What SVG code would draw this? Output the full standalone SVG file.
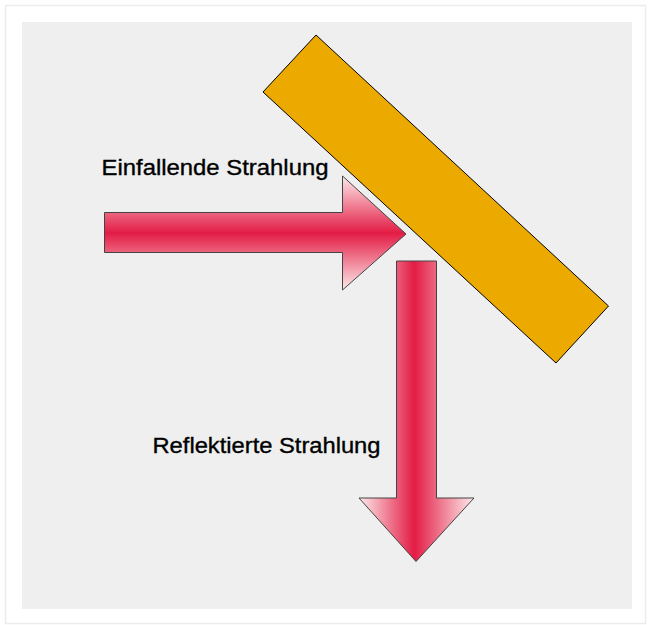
<svg xmlns="http://www.w3.org/2000/svg" width="648" height="625" viewBox="0 0 648 625">
<defs>
<linearGradient id="gH" gradientUnits="userSpaceOnUse" x1="0" y1="176" x2="0" y2="290">
<stop offset="0" stop-color="#fdeaea"/>
<stop offset="0.5" stop-color="#e31c45"/>
<stop offset="1" stop-color="#fdeaea"/>
</linearGradient>
<linearGradient id="gV" gradientUnits="userSpaceOnUse" x1="359" y1="0" x2="474" y2="0">
<stop offset="0" stop-color="#fdeaea"/>
<stop offset="0.48" stop-color="#e31c45"/>
<stop offset="1" stop-color="#fdeaea"/>
</linearGradient>
<style>
.lbl{font-family:"Liberation Sans",Arial,sans-serif;font-size:22px;fill:#000;stroke:#000;stroke-width:0.35}
.arrow{stroke:#444;stroke-width:1}
</style>
</defs>
<rect x="0" y="0" width="648" height="625" fill="#fff"/>
<rect x="5.5" y="5.5" width="640" height="618" fill="#fff" stroke="#ececec" stroke-width="1.5"/>
<rect x="22" y="22" width="610" height="587" fill="#efefef"/>
<g id="mirror">
<polygon points="316,35 608.5,306 556,363 263,92" fill="#eca900" stroke="#000" stroke-width="1"/>
</g>
<g id="incoming">
<polygon class="arrow" fill="url(#gH)" points="104.5,212.5 342.5,212.5 342.5,176 406,234 342.5,290 342.5,252.5 104.5,252.5"/>
<text class="lbl" x="101.5" y="175" textLength="227" lengthAdjust="spacingAndGlyphs">Einfallende Strahlung</text>
</g>
<g id="reflected">
<polygon class="arrow" fill="url(#gV)" points="396.5,261 436.5,261 436.5,498 474,498 416,561.5 359,498 396.5,498"/>
<text class="lbl" x="152.5" y="453" textLength="228" lengthAdjust="spacingAndGlyphs">Reflektierte Strahlung</text>
</g>
<g id="connectors"></g>
</svg>
